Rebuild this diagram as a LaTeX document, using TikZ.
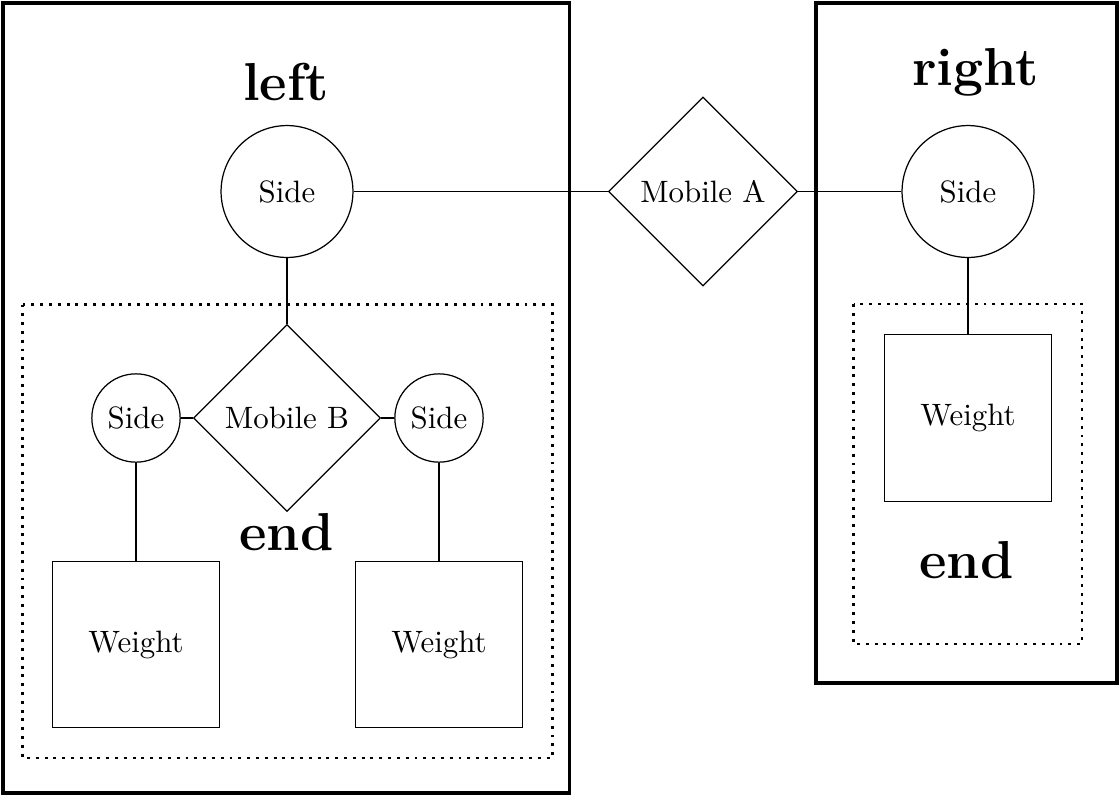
\documentclass[tikz,border=0pt]{standalone}
\usetikzlibrary{shapes.geometric}
\begin{document}
\begin{tikzpicture}[x=0.3236pt,y=-0.3236pt,
  groupbox/.style={draw,line width=1.1pt},
  endbox/.style={draw,line width=0.95pt,dash pattern=on 0.95pt off 1.9pt},
  title/.style={font=\LARGE\bfseries,anchor=base,inner sep=0pt},
  side/.style={draw,circle},
  bigside/.style={side,minimum size=1.5cm},
  mobile/.style={draw,diamond},
  weight/.style={draw,rectangle,minimum size=53.8pt},
  link/.style={draw}]
\useasboundingbox (0,0) rectangle (1119,796);

% outer groups
\draw[groupbox] (3,3) rectangle (569.5,793);
\draw[groupbox] (816,3) rectangle (1117,683);
% dotted end groups
\draw[endbox] (22.5,304.5) rectangle (552.5,758);
\draw[endbox] (853.5,304) rectangle (1082,644);

% titles
\node[title] (tleft)  at (286,100) {left};
\node[title] (tright) at (975.5,85) {right};
\node[title] (tendl)  at (286.5,550) {end};
\node[title] (tendr)  at (966.5,578) {end};

% top level
\node[bigside] (sl) at (287,191.5) {Side};
\node[mobile]  (ma) at (703,191.5) {Mobile A};
\node[bigside] (sr) at (968,191.5) {Side};

% left branch
\node[mobile] (mb)  at (287,418) {Mobile B};
\node[side]   (sbl) at (136,418) {Side};
\node[side]   (sbr) at (439,418) {Side};
\node[weight] (wl)  at (136,644.5) {Weight};
\node[weight] (wr)  at (439,644.5) {Weight};

% right branch
\node[weight] (wa)  at (968,418) {Weight};

% connectors
\path[link] (sl) -- (ma);
\path[link] (ma) -- (sr);
\path[link] (sl) -- (mb);
\path[link] (mb) -- (sbl);
\path[link] (mb) -- (sbr);
\path[link] (sbl) -- (wl);
\path[link] (sbr) -- (wr);
\path[link] (sr) -- (wa);
\end{tikzpicture}
\end{document}
